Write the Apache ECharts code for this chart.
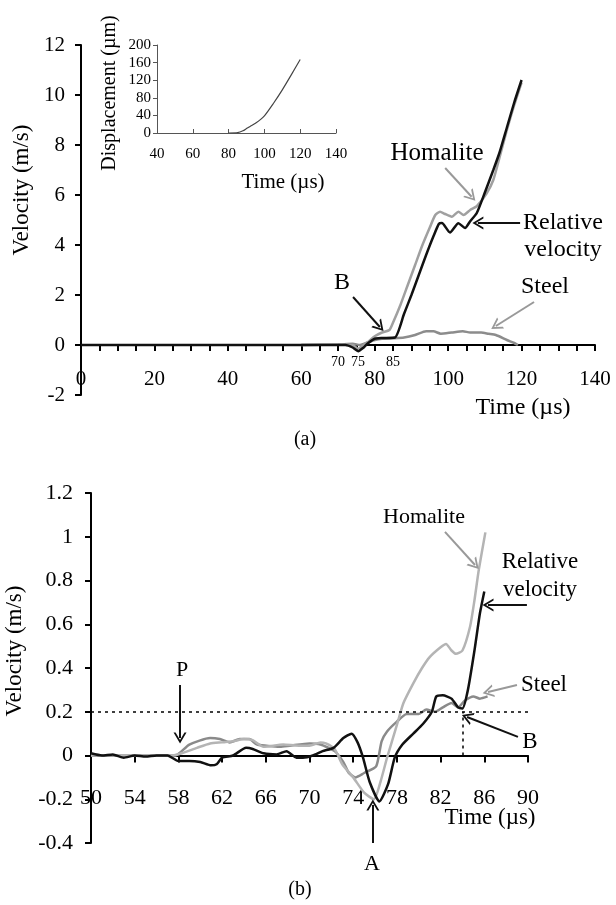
<!DOCTYPE html>
<html>
<head>
<meta charset="utf-8">
<script src="https://cdn.jsdelivr.net/npm/echarts@6/dist/echarts.min.js"></script>
<style>
html, body { margin: 0; padding: 0; background: #fff; }
#chart { width: 616px; height: 905px; }
</style>
</head>
<body>
<div id="chart"></div>
<script>
// (a) full record, velocity in m/s against time in us
const relTimeA = [0, 60, 72, 74, 75.5, 77, 78, 80, 82, 85.5, 88, 90, 92, 94, 96, 97.5, 98.3, 100.5, 102.8, 104.6, 106, 107.8, 110, 112.3, 114, 116, 118, 120];
const relVelA = [0, 0, 0, -0.1, -0.25, -0.1, 0.05, 0.25, 0.28, 0.3, 1.25, 2.0, 2.8, 3.6, 4.35, 4.85, 4.88, 4.5, 4.87, 4.68, 4.95, 5.28, 6.1, 7.0, 7.7, 8.7, 9.7, 10.6];
const homTimeA = [60, 70, 74, 75.5, 77, 78, 80, 82, 84, 85, 87, 89, 91, 93, 95, 96.5, 97.8, 99, 101, 102.8, 104.2, 106, 107.8, 110.5, 112.3, 114, 116, 118, 120];
const homVelA = [0, 0.02, 0, -0.15, 0, 0.1, 0.35, 0.5, 0.6, 0.9, 1.6, 2.4, 3.2, 4.0, 4.7, 5.2, 5.33, 5.25, 5.13, 5.33, 5.2, 5.4, 5.55, 6.07, 6.6, 7.5, 8.6, 9.6, 10.5];
const steelTimeA = [60, 70, 74, 76, 78, 80, 82, 85, 88, 91, 94, 96, 98, 101, 104, 106, 109, 111, 113, 116, 118, 119];
const steelVelA = [0, 0.02, 0.05, 0, 0.1, 0.2, 0.25, 0.27, 0.3, 0.4, 0.55, 0.55, 0.45, 0.5, 0.55, 0.5, 0.5, 0.45, 0.4, 0.2, 0.08, 0];

// inset: displacement (um) against time (us)
const dispTime = [80, 85, 88, 90, 92, 95, 100, 105, 110, 115, 120];
const dispVal = [0, 1, 5, 10, 15, 22, 39, 67, 98, 132, 167];

// (b) early part, velocity in m/s
const relTimeB = [50, 51, 52, 53, 54, 55, 56, 57, 58, 59, 60, 61, 61.5, 62, 63, 64.2, 64.8, 65.8, 67, 67.9, 68.8, 69.4, 70.3, 71.2, 72.2, 73.1, 73.85, 74.4, 74.9, 75.5, 76.4, 77.2, 77.8, 78.5, 79.5, 80.4, 81.2, 81.6, 82.2, 83, 83.6, 84, 84.5, 85.1, 85.6, 86];
const relVelB = [0.01, 0, 0.005, -0.01, 0, -0.005, 0, 0, -0.025, -0.025, -0.03, -0.045, -0.04, -0.01, 0, 0.035, 0.03, 0.01, 0.005, 0.02, -0.01, -0.01, 0, 0.02, 0.035, 0.08, 0.1, 0.06, -0.01, -0.12, -0.21, -0.13, -0.01, 0.05, 0.1, 0.145, 0.2, 0.27, 0.275, 0.26, 0.22, 0.215, 0.3, 0.48, 0.65, 0.75];
const homTimeB = [50, 54, 57.5, 58.3, 59.7, 60.9, 62, 63, 64, 64.8, 65.8, 67.6, 69, 70, 71, 71.5, 72.3, 73, 74, 75, 75.9, 76.5, 77.1, 78, 78.6, 79.5, 80.3, 81, 82, 82.5, 83, 83.4, 84, 84.7, 85.1, 85.5, 86.1];
const homVelB = [0, 0, 0, 0.01, 0.035, 0.055, 0.06, 0.065, 0.075, 0.07, 0.04, 0.05, 0.045, 0.045, 0.06, 0.055, 0.03, -0.04, -0.1, -0.17, -0.2, -0.12, -0.01, 0.14, 0.24, 0.33, 0.4, 0.45, 0.495, 0.51, 0.48, 0.465, 0.48, 0.59, 0.71, 0.85, 1.02];
const steelTimeB = [50, 54, 57.7, 59, 60.9, 61.8, 62.7, 63.6, 64.5, 65.2, 67.3, 68.2, 70, 71, 72.3, 73.1, 73.6, 74.2, 75, 76.1, 76.6, 77.1, 78, 78.9, 80, 80.7, 81.5, 82.2, 83, 83.6, 84.2, 85, 85.6, 86.3];
const steelVelB = [0, 0, 0, 0.05, 0.08, 0.075, 0.06, 0.075, 0.075, 0.05, 0.04, 0.045, 0.055, 0.05, 0.02, -0.03, -0.08, -0.1, -0.08, -0.05, 0.065, 0.11, 0.155, 0.19, 0.19, 0.21, 0.2, 0.22, 0.24, 0.22, 0.25, 0.27, 0.26, 0.27];

const FONT = '"Liberation Serif", "DejaVu Serif", serif';
const pairs = (ts, vs) => ts.map((t, i) => [t, vs[i]]);
// open "V" arrow head, tip at the top like the built-in arrow
const CHEVRON = 'path://M5,0 L10,10 L8.4,10 L5,3.2 L1.6,10 L0,10 Z';

function line(gridIdx, data, color, width, extra) {
    return Object.assign({
        type: 'line',
        xAxisIndex: gridIdx,
        yAxisIndex: gridIdx,
        data: data,
        showSymbol: false,
        smooth: 0.2,
        lineStyle: { color: color, width: width },
        z: 3
    }, extra || {});
}

// arrow as a markLine segment, given in data units
function arrow(from, to, color) {
    return [
        { coord: from, symbol: 'none', lineStyle: { color: color, width: 2, type: 'solid' }, itemStyle: { color: color } },
        { coord: to, symbol: CHEVRON, symbolSize: [13, 11] }
    ];
}

function text(x, y, str, size, extra) {
    return Object.assign({
        type: 'text',
        x: x,
        y: y,
        style: {
            text: str,
            font: size + 'px ' + FONT,
            fill: '#000',
            textAlign: 'center',
            textVerticalAlign: 'middle',
            align: 'center',
            verticalAlign: 'middle'
        },
        z: 10
    }, extra || {});
}

const labelStyle = size => ({ fontFamily: FONT, fontSize: size, color: '#000' });

const option = {
    animation: false,
    backgroundColor: '#fff',
    grid: [
        { left: 81, top: 45, width: 514, height: 350 },
        { left: 157, top: 45, width: 179, height: 88 },
        { left: 91, top: 493, width: 437, height: 350 }
    ],
    xAxis: [
        {
            gridIndex: 0, type: 'value', min: 0, max: 140, interval: 5,
            axisLine: { onZero: true, lineStyle: { color: '#000', width: 2 } },
            axisTick: { show: true, length: 6, lineStyle: { color: '#000', width: 2 } },
            // labels sit low, between the zero line and -2
            axisLabel: Object.assign(labelStyle(21), { margin: -26, formatter: v => (v % 20 === 0 ? String(v) : '') }),
            splitLine: { show: false }
        },
        {
            gridIndex: 1, type: 'value', min: 40, max: 140, interval: 20,
            axisLine: { onZero: false, lineStyle: { color: '#555', width: 1 } },
            axisTick: { show: true, inside: true, length: 4, lineStyle: { color: '#555' } },
            axisLabel: Object.assign(labelStyle(15), { margin: 14 }),
            splitLine: { show: false }
        },
        {
            gridIndex: 2, type: 'value', min: 50, max: 90, interval: 4,
            axisLine: { onZero: true, lineStyle: { color: '#000', width: 2 } },
            axisTick: { show: true, length: 7, lineStyle: { color: '#000', width: 2 } },
            axisLabel: Object.assign(labelStyle(22), { margin: -56 }),
            splitLine: { show: false }
        }
    ],
    yAxis: [
        {
            gridIndex: 0, type: 'value', min: -2, max: 12, interval: 2,
            axisLine: { show: true, onZero: false, lineStyle: { color: '#000', width: 2 } },
            axisTick: { show: true, length: 6, lineStyle: { color: '#000', width: 2 } },
            axisLabel: Object.assign(labelStyle(21), { margin: 16 }),
            splitLine: { show: false }
        },
        {
            gridIndex: 1, type: 'value', min: 0, max: 200, interval: 40,
            axisLine: { show: true, onZero: false, lineStyle: { color: '#555', width: 1 } },
            axisTick: { show: true, length: 4, lineStyle: { color: '#555' } },
            axisLabel: Object.assign(labelStyle(15), { margin: 6 }),
            splitLine: { show: false }
        },
        {
            gridIndex: 2, type: 'value', min: -0.4, max: 1.2, interval: 0.2,
            axisLine: { show: true, onZero: false, lineStyle: { color: '#000', width: 2 } },
            axisTick: { show: true, length: 6, lineStyle: { color: '#000', width: 2 } },
            axisLabel: Object.assign(labelStyle(22), { margin: 18 }),
            splitLine: { show: false }
        }
    ],
    series: [
        // (a)
        line(0, pairs(steelTimeA, steelVelA), '#8c8c8c', 2.5),
        line(0, pairs(homTimeA, homVelA), '#a0a0a0', 2.5),
        line(0, pairs(relTimeA, relVelA), '#111', 2.5, {
            markLine: {
                silent: true, animation: false, label: { show: false },
                data: [
                    arrow([99.2, 7.08], [106.4, 5.93], '#999'),
                    arrow([119.6, 4.88], [108.1, 4.88], '#111'),
                    arrow([123.4, 1.72], [113.0, 0.76], '#999'),
                    arrow([74.1, 1.92], [81.4, 0.72], '#111')
                ]
            }
        }),
        // inset
        line(1, pairs(dispTime, dispVal), '#444', 1.2),
        // (b)
        line(2, pairs(steelTimeB, steelVelB), '#8a8a8a', 2.5, {
            markLine: {
                silent: true, animation: false, symbol: 'none', label: { show: false },
                lineStyle: { color: '#000', width: 1.5, type: [3, 4] },
                data: [
                    [{ coord: [50, 0.2] }, { coord: [90, 0.2] }],
                    [{ coord: [84, 0] }, { coord: [84, 0.2] }]
                ]
            }
        }),
        line(2, pairs(homTimeB, homVelB), '#b4b4b4', 2.5),
        line(2, pairs(relTimeB, relVelB), '#111', 2.5, {
            markLine: {
                silent: true, animation: false, label: { show: false },
                data: [
                    arrow([58.15, 0.322], [58.15, 0.08], '#111'),
                    arrow([75.8, -0.4], [75.8, -0.226], '#111'),
                    arrow([89.08, 0.085], [84.42, 0.176], '#111'),
                    arrow([88.99, 0.322], [86.34, 0.29], '#999'),
                    arrow([89.9, 0.688], [86.34, 0.688], '#111'),
                    arrow([82.4, 1.022], [85.15, 0.871], '#999')
                ]
            }
        })
    ],
    graphic: [
        // (a) labels
        text(22, 190, 'Velocity (m/s)', 23, { rotation: Math.PI / 2 }),
        text(523, 408, 'Time (\u00b5s)', 24),
        text(305, 440, '(a)', 20),
        text(437, 153, 'Homalite', 25),
        text(563, 223, 'Relative', 24),
        text(563, 250, 'velocity', 24),
        text(545, 287, 'Steel', 24),
        text(342, 283, 'B', 24),
        text(338, 362, '70', 14),
        text(358, 362, '75', 14),
        text(393, 362, '85', 14),
        // inset labels
        text(110, 93, 'Displacement (\u00b5m)', 20, { rotation: Math.PI / 2 }),
        text(283, 182, 'Time (\u00b5s)', 21),
        // (b) labels
        text(15, 651, 'Velocity (m/s)', 23, { rotation: Math.PI / 2 }),
        text(490, 818, 'Time (\u00b5s)', 23),
        text(300, 890, '(b)', 20),
        text(182, 670, 'P', 22),
        text(372, 864, 'A', 22),
        text(530, 742, 'B', 23),
        text(544, 685, 'Steel', 23),
        text(540, 562, 'Relative', 23),
        text(540, 590, 'velocity', 23),
        text(424, 517, 'Homalite', 22)
    ]
};

const chart = echarts.init(document.querySelector('#chart'));
chart.setOption(option);
</script>
</body>
</html>
